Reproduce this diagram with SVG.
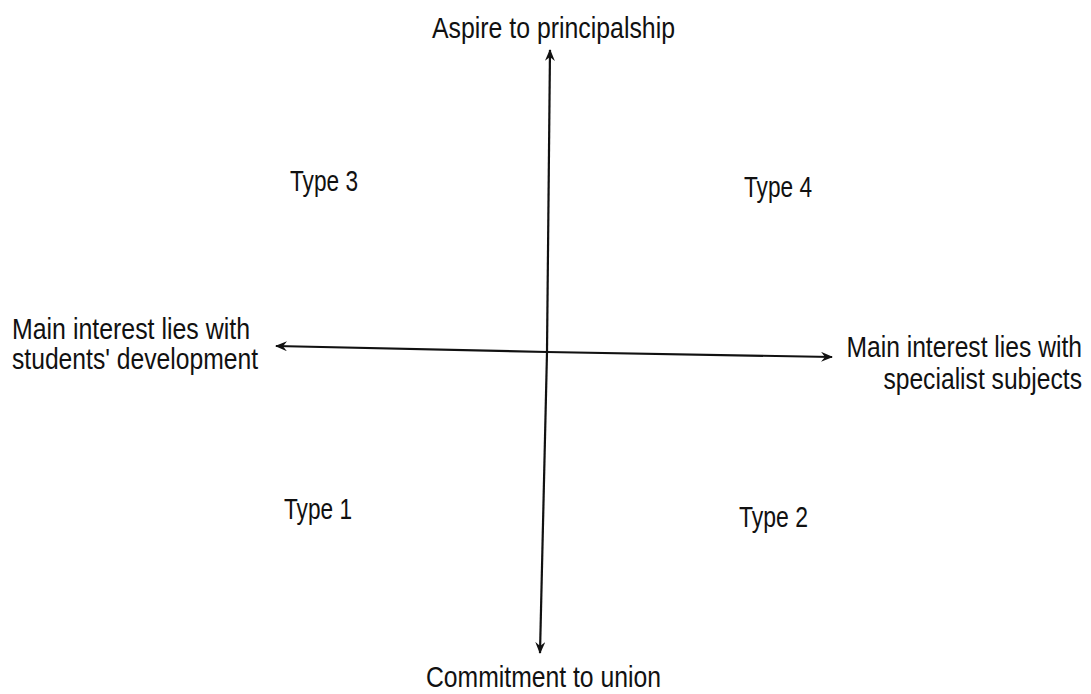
<svg xmlns="http://www.w3.org/2000/svg" width="1091" height="694" viewBox="0 0 1091 694">
<style>
text{font-family:"Liberation Sans",Arial,sans-serif;font-size:29px;fill:#111}
.ax{stroke:#111;stroke-width:2.2;fill:none}
</style>
<defs>
<marker id="ah" viewBox="0 0 12 10" refX="11" refY="5" markerWidth="12" markerHeight="10" markerUnits="userSpaceOnUse" orient="auto">
<path d="M0,0 L12,5 L0,10 L4,5 Z" fill="#111"/>
</marker>
</defs>
<rect width="1091" height="694" fill="#fff"/>
<g id="connectors">
<line class="ax" x1="547" y1="352" x2="550" y2="50" marker-end="url(#ah)"/>
<line class="ax" x1="547" y1="352" x2="540" y2="653" marker-end="url(#ah)"/>
<line class="ax" x1="547" y1="352" x2="276" y2="346" marker-end="url(#ah)"/>
<line class="ax" x1="547" y1="352" x2="832" y2="357" marker-end="url(#ah)"/>
</g>
<g id="top"><text x="432" y="38" textLength="243" lengthAdjust="spacingAndGlyphs">Aspire to principalship</text></g>
<g id="bottom"><text x="426" y="687" textLength="235" lengthAdjust="spacingAndGlyphs">Commitment to union</text></g>
<g id="left"><text x="12" y="339" textLength="238" lengthAdjust="spacingAndGlyphs">Main interest lies with</text><text x="12" y="369" textLength="246" lengthAdjust="spacingAndGlyphs">students' development</text></g>
<g id="right" transform="translate(1082,0) scale(0.85,1)"><text x="0" y="357" text-anchor="end">Main interest lies with</text><text x="0" y="389" text-anchor="end">specialist subjects</text></g>
<g id="type3"><text x="290" y="191" textLength="68" lengthAdjust="spacingAndGlyphs">Type 3</text></g>
<g id="type4"><text x="744" y="197" textLength="68" lengthAdjust="spacingAndGlyphs">Type 4</text></g>
<g id="type1"><text x="284" y="519" textLength="68" lengthAdjust="spacingAndGlyphs">Type 1</text></g>
<g id="type2"><text x="739" y="527" textLength="69" lengthAdjust="spacingAndGlyphs">Type 2</text></g>
</svg>
